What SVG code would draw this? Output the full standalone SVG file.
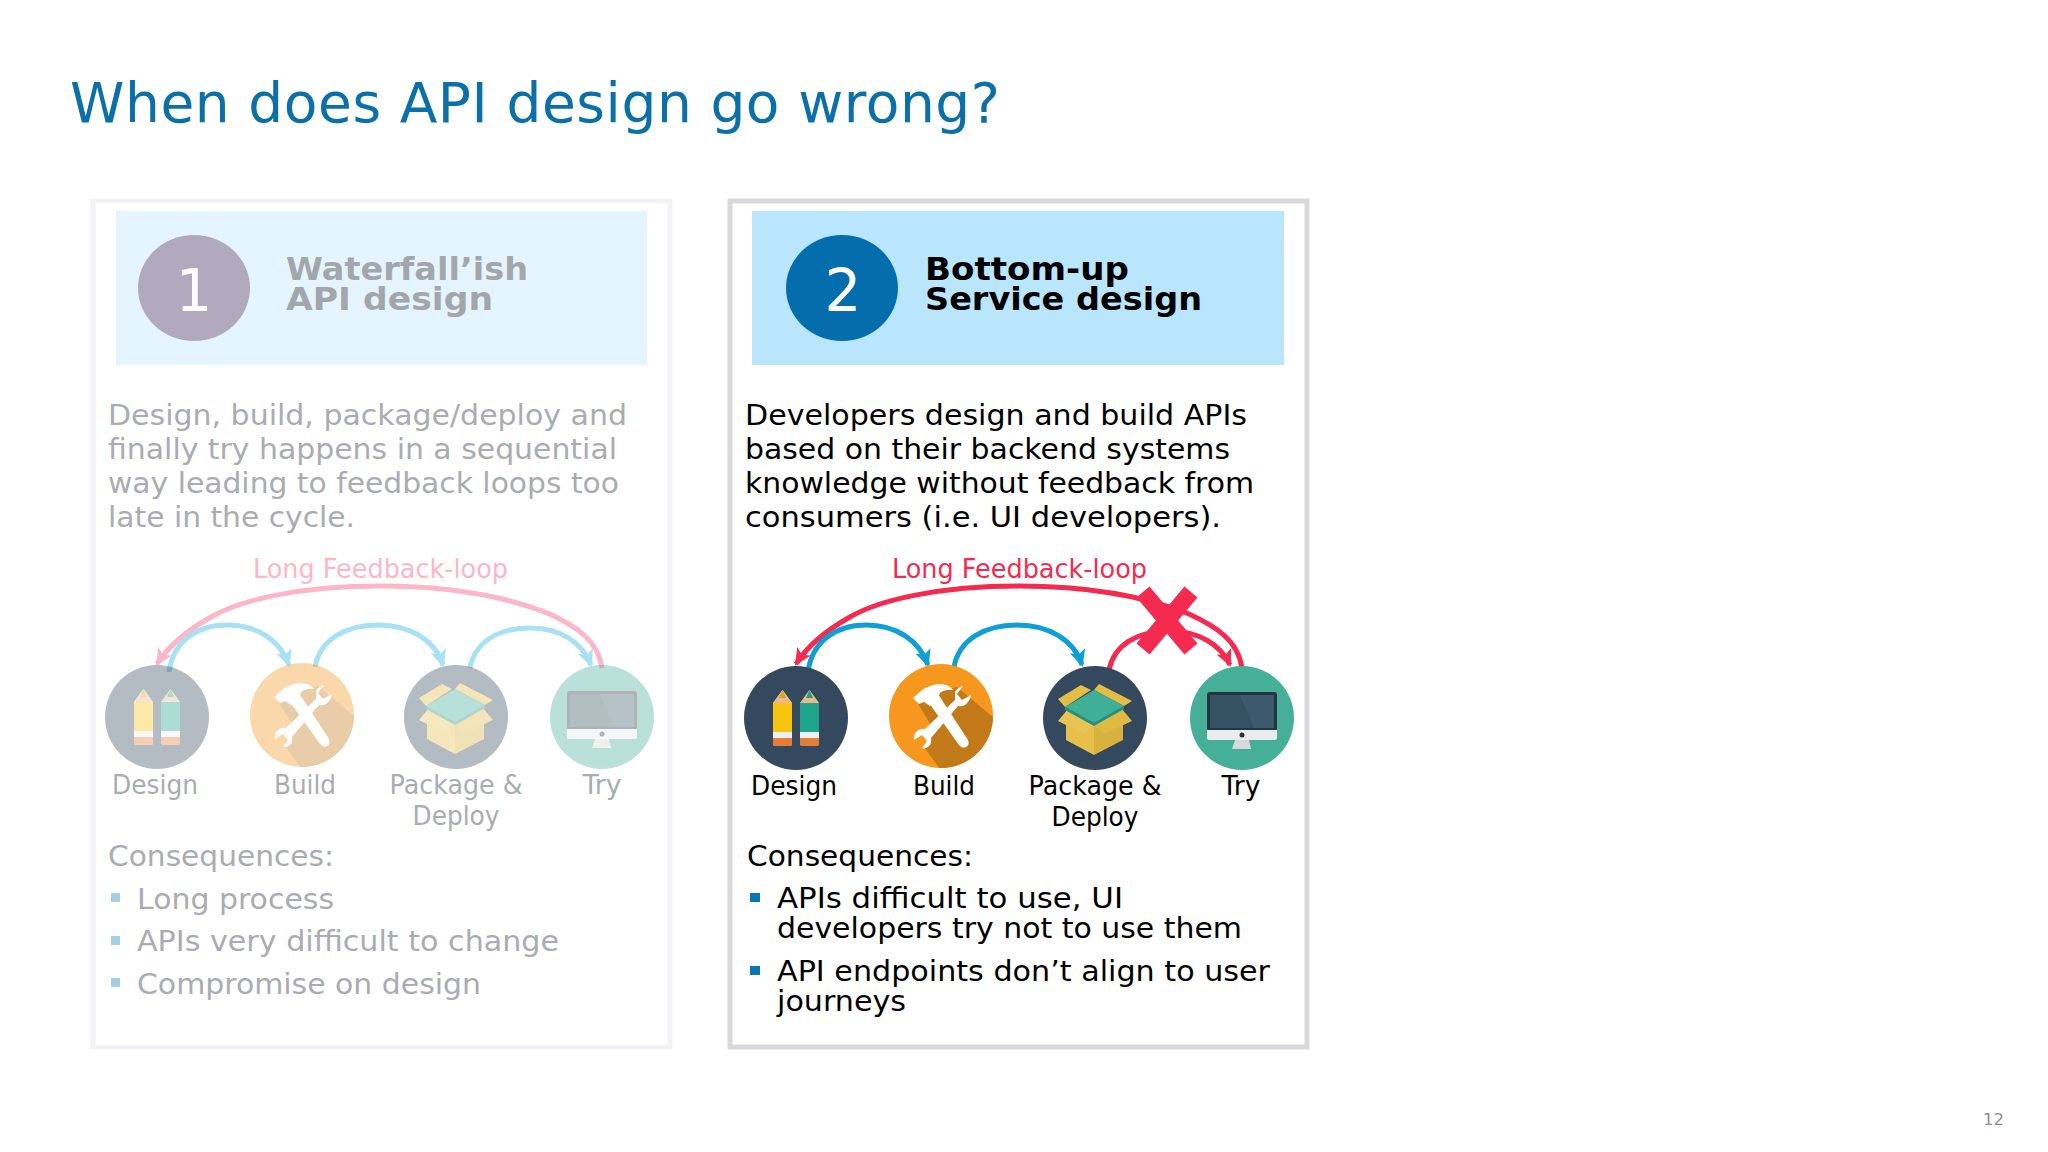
<svg xmlns="http://www.w3.org/2000/svg" width="2048" height="1152" viewBox="0 0 2048 1152">
<style>
text{font-family:"DejaVu Sans",Verdana,sans-serif}
.t{font-size:29px;fill:#000}
.g{font-size:29px;fill:#a9acb1}
.lb{font-size:26px;fill:#000;text-anchor:middle}
.lg{font-size:26px;fill:#a9acb1;text-anchor:middle}
.hd{font-size:32px;font-weight:bold;fill:#000}
.hg{font-size:32px;font-weight:bold;fill:#a3a7ab}
.num{font-size:58px;fill:#fff;text-anchor:middle}
.lf{font-size:26px}
.a{fill:none;stroke-width:5}
.ab{stroke:#0f9fd6;marker-end:url(#mb)}
.ar{stroke:#f52a50;marker-end:url(#mr)}
.lab{stroke:#a8e0f4;marker-end:url(#mlb)}
.lar{stroke:#fbb6c8;marker-end:url(#mlr)}
</style>
<defs>
<marker id="mb" markerUnits="userSpaceOnUse" markerWidth="20" markerHeight="20" refX="15" refY="9" orient="auto"><path d="M0,1 L17,9 L0,17 L4,9Z" fill="#0f9fd6"/></marker>
<marker id="mr" markerUnits="userSpaceOnUse" markerWidth="20" markerHeight="20" refX="15" refY="9" orient="auto"><path d="M0,1 L17,9 L0,17 L4,9Z" fill="#f52a50"/></marker>
<marker id="mlb" markerUnits="userSpaceOnUse" markerWidth="20" markerHeight="20" refX="15" refY="9" orient="auto"><path d="M0,1 L17,9 L0,17 L4,9Z" fill="#a8e0f4"/></marker>
<marker id="mlr" markerUnits="userSpaceOnUse" markerWidth="20" markerHeight="20" refX="15" refY="9" orient="auto"><path d="M0,1 L17,9 L0,17 L4,9Z" fill="#fbb6c8"/></marker>
<clipPath id="cb"><circle cx="0" cy="0" r="52"/></clipPath>
<g id="i-design">
<circle r="52" fill="#34495e"/>
<path d="M-23,-15 L-13.500,-28 L-4,-15 V26 Q-4,28 -7,28 H-20 Q-23,28 -23,26Z" fill="#f7c40f"/>
<path d="M-23,-15 L-13.500,-28 L-4,-15Z" fill="#e8b98c"/>
<path d="M-17,-20 L-13.500,-28 L-10,-20Z" fill="#d9a520"/>
<rect x="-23" y="14" width="19" height="6" fill="#ecf0f1"/>
<path d="M-23,20 H-4 V26 Q-4,28 -7,28 H-20 Q-23,28 -23,26Z" fill="#e67e3a"/>
<path d="M4,-15 L13.500,-28 L23,-15 V26 Q23,28 20,28 H7 Q4,28 4,26Z" fill="#1fa58d"/>
<path d="M4,-15 L13.500,-28 L23,-15Z" fill="#e8b98c"/>
<path d="M10,-20 L13.500,-28 L17,-20Z" fill="#2a9a83"/>
<rect x="4" y="14" width="19" height="6" fill="#ecf0f1"/>
<path d="M4,20 H23 V26 Q23,28 20,28 H7 Q4,28 4,26Z" fill="#e67e3a"/>
</g>
<g id="i-build">
<circle r="52" fill="#f6981e"/>
<path d="M16,-29 L58,6 V60 H4 L-17,31 L-6,16 L-24,-14 L-8,-22Z" fill="#c27917" clip-path="url(#cb)"/>
<path d="M-12,-13 L-3,-22 L27,24 Q29,29 25,31 Q21,33 18,29Z" fill="#fff"/>
<path d="M-28,-18 Q-14,-32 -2,-32 Q8,-32 12,-26 Q4,-27 -1,-23 L-3,-18 L-11,-10 L-17,-14 L-22,-12Z" fill="#fff"/>
<path d="M14,-16 L14,-24 Q17,-29 22,-30 L16,-22 L21,-16 L30,-21 Q29,-15 24,-11 Q20,-9 17,-10 L-10,22 Q-9,27 -12,30 Q-15,33 -19,32 L-14,25 L-19,19 L-27,24 Q-28,19 -24,15 Q-20,12 -16,13Z" fill="#fff"/>
</g>
<g id="i-package">
<circle r="52" fill="#34495e"/>
<path d="M-37,-19 L-14,-33 L-4,-28 L-30,-11Z" fill="#e3bd45"/>
<path d="M37,-17 L4,-34 L-1,-28 L29,-12Z" fill="#e3bd45"/>
<path d="M-29,3 L-1,7 V37 L-29,22Z" fill="#e6c04a"/>
<path d="M28,3 L-1,7 V37 L28,22Z" fill="#d9b13e"/>
<path d="M-37,3 L-27,-9 L-1,7 L-11,16Z" fill="#e8c552"/>
<path d="M37,3 L27,-9 L-1,7 L9,16Z" fill="#e0b943"/>
<path d="M-30,-8 L-1,8 L29,-9 V-12 L-1,5 L-30,-11Z" fill="#23917c"/>
<path d="M-30,-11 L-1,-28 L29,-12 L-1,5Z" fill="#3fb097"/>
</g>
<g id="i-try">
<circle r="52" fill="#45b097"/>
<rect x="-35" y="-26" width="70" height="39" rx="3" fill="#26343f"/>
<rect x="-32" y="-23" width="64" height="33" fill="#34525f"/>
<path d="M-2,-23 H32 V10 H12Z" fill="#3d5a6c"/>
<path d="M-35,12 H35 V20 Q35,22 33,22 H-33 Q-35,22 -35,20Z" fill="#e8eced"/>
<circle cx="0" cy="17" r="2.500" fill="#26343f"/>
<path d="M-7,22 H7 L9,31 H-10Z" fill="#d5dadb"/>
</g>
</defs>
<rect width="2048" height="1152" fill="#fff"/>
<text id="title" x="70" y="122" font-size="55" fill="#0b6fa8" textLength="930">When does API design go wrong?</text>

<g id="panel-1">
<rect x="93" y="201" width="577" height="846" fill="#fff" stroke="#f3f3f7" stroke-width="5"/>
<rect x="116" y="211" width="531" height="154" fill="#e5f5ff"/>
<ellipse cx="194" cy="288" rx="56" ry="53" fill="#b1a9bd"/>
<text class="num" x="194" y="311">1</text>
<text class="hg" x="286" y="280" textLength="242" lengthAdjust="spacingAndGlyphs">Waterfall’ish</text>
<text class="hg" x="286" y="310" textLength="207" lengthAdjust="spacingAndGlyphs">API design</text>
<text class="g" x="108" y="425" textLength="519" lengthAdjust="spacingAndGlyphs">Design, build, package/deploy and</text>
<text class="g" x="108" y="459" textLength="509" lengthAdjust="spacingAndGlyphs">finally try happens in a sequential</text>
<text class="g" x="108" y="493" textLength="511" lengthAdjust="spacingAndGlyphs">way leading to feedback loops too</text>
<text class="g" x="108" y="527" textLength="247" lengthAdjust="spacingAndGlyphs">late in the cycle.</text>
<text class="lf" x="253" y="578" fill="#fbb6c8" textLength="255" lengthAdjust="spacingAndGlyphs">Long Feedback-loop</text>
<text class="g" x="108" y="866" textLength="226" lengthAdjust="spacingAndGlyphs">Consequences:</text>
<rect x="111" y="893" width="9" height="9" fill="#a5cfe6"/>
<text class="g" x="137" y="909" textLength="197" lengthAdjust="spacingAndGlyphs">Long process</text>
<rect x="111" y="936" width="9" height="9" fill="#a5cfe6"/>
<text class="g" x="137" y="951" textLength="422" lengthAdjust="spacingAndGlyphs">APIs very difficult to change</text>
<rect x="111" y="978" width="9" height="9" fill="#a5cfe6"/>
<text class="g" x="137" y="994" textLength="344" lengthAdjust="spacingAndGlyphs">Compromise on design</text>
</g>

<g id="panel-2">
<rect x="730" y="201" width="577" height="846" fill="#fff" stroke="#d9d9dd" stroke-width="5"/>
<rect x="752" y="211" width="532" height="154" fill="#b9e5fd"/>
<ellipse cx="842" cy="288" rx="56" ry="53" fill="#036eab"/>
<text class="num" x="843" y="311">2</text>
<text class="hd" x="925" y="280" textLength="204" lengthAdjust="spacingAndGlyphs">Bottom-up</text>
<text class="hd" x="925" y="310" textLength="277" lengthAdjust="spacingAndGlyphs">Service design</text>
<text class="t" x="745" y="425" textLength="502" lengthAdjust="spacingAndGlyphs">Developers design and build APIs</text>
<text class="t" x="745" y="459" textLength="485" lengthAdjust="spacingAndGlyphs">based on their backend systems</text>
<text class="t" x="745" y="493" textLength="509" lengthAdjust="spacingAndGlyphs">knowledge without feedback from</text>
<text class="t" x="745" y="527" textLength="476" lengthAdjust="spacingAndGlyphs">consumers (i.e. UI developers).</text>
<text class="lf" x="892" y="578" fill="#f52a50" textLength="255" lengthAdjust="spacingAndGlyphs">Long Feedback-loop</text>
<text class="t" x="747" y="866" textLength="226" lengthAdjust="spacingAndGlyphs">Consequences:</text>
<rect x="750" y="893" width="10" height="9" fill="#0b76b5"/>
<text class="t" x="777" y="908" textLength="346" lengthAdjust="spacingAndGlyphs">APIs difficult to use, UI</text>
<text class="t" x="777" y="938" textLength="465" lengthAdjust="spacingAndGlyphs">developers try not to use them</text>
<rect x="750" y="966" width="10" height="9" fill="#0b76b5"/>
<text class="t" x="777" y="981" textLength="493" lengthAdjust="spacingAndGlyphs">API endpoints don’t align to user</text>
<text class="t" x="777" y="1011" textLength="129" lengthAdjust="spacingAndGlyphs">journeys</text>
</g>

<g id="connectors">
<path class="a lar" d="M602,668 C598,640 575,626 550,614 C500,594 440,586 380,586 C300,586 240,600 211,617 C186,631 169,645 157,664"/>
<path class="a lab" d="M169,672 C173,642 196,625 227,625 C257,625 280,640 289,665"/>
<path class="a lab" d="M315,667 C320,640 345,625 378,625 C410,625 435,640 443,665"/>
<path class="a lab" d="M470,668 C475,642 498,628 530,628 C560,628 582,642 591,665"/>
<path class="a ar" d="M1242,668 C1238,640 1215,626 1189,614 C1139,594 1079,586 1019,586 C939,586 879,600 850,617 C825,631 808,645 796,664"/>
<path class="a ab" d="M808,672 C812,642 835,625 866,625 C896,625 919,640 928,665"/>
<path class="a ab" d="M954,667 C959,640 984,625 1017,625 C1049,625 1074,640 1082,665"/>
<path class="a ar" d="M1109,670 C1114,645 1137,631 1169,631 C1199,631 1221,645 1230,665"/>
<path d="M1143,592 L1191,649 M1191,592 L1143,649" fill="none" stroke="#f52a50" stroke-width="17"/>
</g>

<g id="l-design"><use href="#i-design" transform="translate(157,717)" opacity="0.37"/><text class="lg" x="155" y="794" textLength="86" lengthAdjust="spacingAndGlyphs">Design</text></g>
<g id="l-build"><use href="#i-build" transform="translate(302,715)" opacity="0.37"/><text class="lg" x="305" y="794" textLength="62" lengthAdjust="spacingAndGlyphs">Build</text></g>
<g id="l-package"><use href="#i-package" transform="translate(456,717)" opacity="0.37"/><text class="lg" x="456" y="794" textLength="133" lengthAdjust="spacingAndGlyphs">Package &amp;</text><text class="lg" x="456" y="825" textLength="87" lengthAdjust="spacingAndGlyphs">Deploy</text></g>
<g id="l-try"><use href="#i-try" transform="translate(602,717)" opacity="0.37"/><text class="lg" x="602" y="794" textLength="39" lengthAdjust="spacingAndGlyphs">Try</text></g>

<g id="r-design"><use href="#i-design" transform="translate(796,718)"/><text class="lb" x="794" y="795" textLength="86" lengthAdjust="spacingAndGlyphs">Design</text></g>
<g id="r-build"><use href="#i-build" transform="translate(941,716)"/><text class="lb" x="944" y="795" textLength="62" lengthAdjust="spacingAndGlyphs">Build</text></g>
<g id="r-package"><use href="#i-package" transform="translate(1095,718)"/><text class="lb" x="1095" y="795" textLength="133" lengthAdjust="spacingAndGlyphs">Package &amp;</text><text class="lb" x="1095" y="826" textLength="87" lengthAdjust="spacingAndGlyphs">Deploy</text></g>
<g id="r-try"><use href="#i-try" transform="translate(1242,718)"/><text class="lb" x="1241" y="795" textLength="39" lengthAdjust="spacingAndGlyphs">Try</text></g>

<text id="page" x="1983" y="1125" font-size="16" fill="#8f8f8f" textLength="21" lengthAdjust="spacingAndGlyphs">12</text>
</svg>
